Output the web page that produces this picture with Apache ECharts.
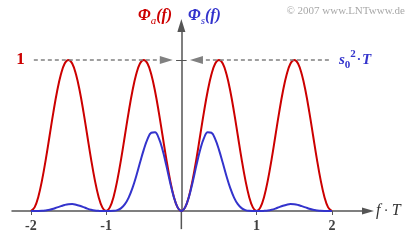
<!DOCTYPE html>
<html><head><meta charset="utf-8">
<script src="https://cdn.jsdelivr.net/npm/echarts@6/dist/echarts.min.js"></script>
<style>html,body{margin:0;padding:0;background:#fff}#c{width:415px;height:240px}</style>
</head><body><div id="c"></div>
<script>
// normalized frequency f·T
const fT = [-2,-1.95,-1.9,-1.85,-1.8,-1.75,-1.7,-1.65,-1.6,-1.55,-1.5,-1.45,-1.4,-1.35,-1.3,-1.25,-1.2,-1.15,-1.1,-1.05,
  -1,-0.95,-0.9,-0.85,-0.8,-0.75,-0.7,-0.65,-0.6,-0.55,-0.5,-0.45,-0.4,-0.35,-0.3,-0.25,-0.2,-0.15,-0.1,-0.05,
  0,0.05,0.1,0.15,0.2,0.25,0.3,0.35,0.4,0.45,0.5,0.55,0.6,0.65,0.7,0.75,0.8,0.85,0.9,0.95,
  1,1.05,1.1,1.15,1.2,1.25,1.3,1.35,1.4,1.45,1.5,1.55,1.6,1.65,1.7,1.75,1.8,1.85,1.9,1.95,2];
// Φa(f) (red)
const phiA = [0,.024,.095,.206,.345,.5,.655,.794,.905,.976,1,.976,.905,.794,.655,.5,.345,.206,.095,.024,
  0,.024,.095,.206,.345,.5,.655,.794,.905,.976,1,.976,.905,.794,.655,.5,.345,.206,.095,.024,
  0,.024,.095,.206,.345,.5,.655,.794,.905,.976,1,.976,.905,.794,.655,.5,.345,.206,.095,.024,
  0,.024,.095,.206,.345,.5,.655,.794,.905,.976,1,.976,.905,.794,.655,.5,.345,.206,.095,.024,0];
// Φs(f) (blue)
const phiS = [0,0,0,.001,.004,.008,.015,.024,.032,.040,.045,.046,.042,.035,.026,.016,.008,.003,.001,0,
  0,0,.001,.006,.019,.045,.089,.151,.230,.319,.405,.476,.518,.521,.482,.405,.302,.191,.092,.024,
  0,.024,.092,.191,.302,.405,.482,.521,.518,.476,.405,.319,.230,.151,.089,.045,.019,.006,.001,0,
  0,0,.001,.003,.008,.016,.026,.035,.042,.046,.045,.040,.032,.024,.015,.008,.004,.001,0,0,0];
const xTickLabels = [-2,-1,1,2];
const refLevel = 1;

const SERIF = '"Liberation Serif","DejaVu Serif",serif';
const AX = '#555555';
const RED = '#cc0000', BLUE = '#3333cc';

const chart = echarts.init(document.getElementById('c'), null, {renderer:'canvas'});
const pairs = arr => fT.map((f,i)=>[f, arr[i]]);

chart.setOption({
  animation:false,
  backgroundColor:'#fff',
  grid:{left:12, right:53, top:32, bottom:29, containLabel:false, outerBoundsMode:'none'},
  xAxis:{type:'value', min:-2.25, max:2.4,
    axisLine:{onZero:true, lineStyle:{color:AX, width:1.5}, symbol:['none','triangle'], symbolSize:[7,12], symbolOffset:[0,6]},
    axisTick:{show:true, customValues:xTickLabels, length:4, lineStyle:{color:AX}},
    axisLabel:{customValues:xTickLabels, margin:8, color:'#404040', fontFamily:SERIF, fontSize:14, fontWeight:'bold',
      formatter:v=>String(v)},
    splitLine:{show:false},
    name:'{i|f} {n|·} {i|T}', nameLocation:'end', nameGap:14,
    nameTextStyle:{rich:{i:{fontFamily:SERIF, fontStyle:'italic', fontSize:16, color:'#333'}, n:{fontFamily:SERIF, fontSize:14, color:'#333'}}}
  },
  yAxis:{type:'value', min:0, max:1.185,
    axisLine:{onZero:true, lineStyle:{color:AX, width:1.5}, symbol:['none','triangle'], symbolSize:[8,13], symbolOffset:[0,6.5]},
    axisTick:{show:false}, axisLabel:{show:false}, splitLine:{show:false}
  },
  series:[
    {type:'line', data:pairs(phiA), smooth:0.4, showSymbol:false, silent:true, clip:false,
     lineStyle:{color:RED, width:2}, itemStyle:{color:RED},
     markLine:{silent:true, animation:false, symbol:['none','none'],
       data:[
         [{coord:[-1.96, refLevel], symbol:'none',
           lineStyle:{color:'#808080', width:1.5, type:[4,3]},
           label:{show:true, position:'start', distance:9, formatter:'1', color:RED, fontFamily:SERIF, fontSize:17, fontWeight:'bold'}},
          {coord:[-0.2, refLevel], symbol:'triangle', symbolSize:[8,13]}],
         [{coord:[1.96, refLevel], symbol:'none',
           lineStyle:{color:'#808080', width:1.5, type:[4,3]},
           label:{show:true, position:'start', distance:10, formatter:'{i|s}{sub|0}{sup|2}{d|·}{i|T}',
             rich:{
               i:{fontFamily:SERIF, fontStyle:'italic', fontWeight:'bold', fontSize:15, color:BLUE, lineHeight:22},
               d:{fontFamily:SERIF, fontWeight:'bold', fontSize:13, color:BLUE, lineHeight:22, padding:[0,1,0,1]},
               sub:{fontFamily:SERIF, fontWeight:'bold', fontSize:11, color:BLUE, lineHeight:12, verticalAlign:'bottom'},
               sup:{fontFamily:SERIF, fontWeight:'bold', fontSize:11, color:BLUE, lineHeight:12, verticalAlign:'top'}
             }}},
          {coord:[0.2, refLevel], symbol:'triangle', symbolSize:[8,13]}],
         [{coord:[-0.07, refLevel], symbol:'none', lineStyle:{color:AX, width:1, type:'solid'}, label:{show:false}},
          {coord:[0.07, refLevel], symbol:'none'}]
       ]}
    },
    {type:'line', data:pairs(phiS), smooth:0.4, showSymbol:false, silent:true, clip:false,
     lineStyle:{color:BLUE, width:2}, itemStyle:{color:BLUE}}
  ],
  graphic:[
    {id:'ta', type:'text', x:138, y:16, silent:true, style:{
      text:'{p|Φ}{s|a}{p|(f)}', align:'left', verticalAlign:'middle',
      rich:{p:{fontFamily:SERIF, fontStyle:'italic', fontWeight:'bold', fontSize:16, fill:RED, lineHeight:22},
            s:{fontFamily:SERIF, fontStyle:'italic', fontSize:11, fill:RED, lineHeight:12, verticalAlign:'bottom'}}}},
    {id:'ts', type:'text', x:188, y:16, silent:true, style:{
      text:'{p|Φ}{s|s}{p|(f)}', align:'left', verticalAlign:'middle',
      rich:{p:{fontFamily:SERIF, fontStyle:'italic', fontWeight:'bold', fontSize:16, fill:BLUE, lineHeight:22},
            s:{fontFamily:SERIF, fontStyle:'italic', fontSize:11, fill:BLUE, lineHeight:12, verticalAlign:'bottom'}}}},
    {id:'cr', type:'text', x:405, y:11, silent:true, style:{
      text:'© 2007 www.LNTwww.de', align:'right', verticalAlign:'middle',
      font:'11px "Liberation Serif", serif', fill:'#a8a8a8'}}
  ]
});
// extend the vertical axis a little below f-axis, as in the original figure
const pTop = chart.convertToPixel({gridIndex:0}, [0, 0]);
const pBot = chart.convertToPixel({gridIndex:0}, [0, -0.12]);
chart.setOption({graphic:[{id:'yext', type:'line', silent:true,
  shape:{x1:pTop[0], y1:pTop[1], x2:pBot[0], y2:pBot[1]}, style:{stroke:AX, lineWidth:1.5}}]});
</script></body></html>
